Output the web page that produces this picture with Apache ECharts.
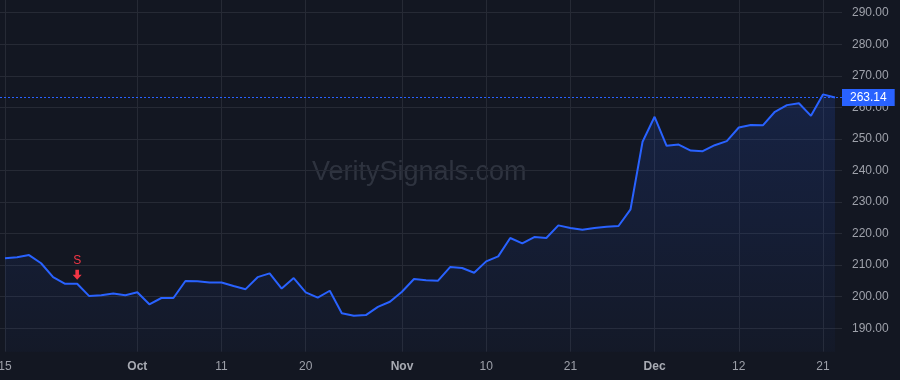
<!DOCTYPE html>
<html>
<head>
<meta charset="utf-8">
<script src="https://cdn.jsdelivr.net/npm/echarts@6/dist/echarts.min.js"></script>
<style>
html,body{margin:0;padding:0;background:#131722;}
#chart{width:900px;height:380px;}
</style>
</head>
<body>
<div id="chart"></div>
<script>
// Daily closes (trading days), index 0 = Sep 15
const values = [
  212.2, 212.5, 213.2, 210.6, 206.2, 204.1, 204.1, 200.2, 200.5, 201.0,
  200.5, 201.4, 197.6, 199.6, 199.6, 205.0, 204.9, 204.5, 204.5, 203.4,
  202.4, 206.2, 207.4, 202.6, 205.9, 201.4, 199.7, 201.9, 194.8, 194.0,
  194.2, 196.8, 198.4, 201.6, 205.6, 205.2, 205.1, 209.4, 209.1, 207.6,
  211.2, 212.8, 218.6, 216.9, 218.9, 218.6, 222.6, 221.8, 221.2, 221.8,
  222.2, 222.4, 227.7, 249.1, 257.0, 247.8, 248.2, 246.3, 246.1, 248.0,
  249.3, 253.6, 254.4, 254.3, 258.6, 260.7, 261.3, 257.3, 264.1, 263.14
];
// x-axis tick labels and the bar index each one sits on
const tickIndex  = [0, 11, 18, 25, 33, 40, 47, 54, 61, 68];
const tickLabels = ['15', 'Oct', '11', '20', 'Nov', '10', '21', 'Dec', '12', '21'];
const monthLabels = ['Oct', 'Nov', 'Dec'];
// price axis tick labels
const priceTicks = [190, 200, 210, 220, 230, 240, 250, 260, 270, 280, 290];
// sell signal
const signalIndex = 6;
const signalText = 'S';
const lastPrice = 263.14;
const watermark = 'VeritySignals.com';

const FONT = '"Liberation Sans", Arial, sans-serif';
const seriesData = values.map((v, i) => [i, v]);

const chart = echarts.init(document.getElementById('chart'), null, {renderer: 'canvas'});
chart.setOption({
  backgroundColor: '#131722',
  animation: false,
  textStyle: {fontFamily: FONT},
  grid: {left: 0, right: 58, top: 0, bottom: 28.3, containLabel: false, outerBoundsMode: 'none'},
  graphic: [{
    type: 'text',
    left: 421 - 109,
    top: 159,
    z: 0,
    silent: true,
    style: {
      text: watermark,
      font: '27px ' + FONT,
      fill: 'rgba(120,125,140,0.28)'
    }
  }],
  xAxis: {
    type: 'value',
    min: -0.4156,
    max: 69.58,
    axisLine: {show: false},
    axisTick: {show: false, customValues: tickIndex},
    splitLine: {show: true, lineStyle: {color: '#262a35', width: 1}},
    axisLabel: {
      customValues: tickIndex,
      margin: 9,
      fontSize: 12,
      color: '#9ea1aa',
      fontFamily: FONT,
      hideOverlap: false,
      formatter: function (v) {
        const k = tickIndex.indexOf(Math.round(v));
        if (k < 0) return '';
        const t = tickLabels[k];
        return monthLabels.indexOf(t) >= 0 ? '{m|' + t + '}' : t;
      },
      rich: {m: {fontWeight: 'bold', color: '#a8abb3', fontSize: 12, fontFamily: FONT}}
    }
  },
  yAxis: {
    type: 'value',
    position: 'right',
    min: 182.59,
    max: 294.0,
    axisLine: {show: false},
    axisTick: {show: false, customValues: priceTicks},
    splitLine: {show: true, lineStyle: {color: '#262a35', width: 1}},
    axisLabel: {
      customValues: priceTicks,
      margin: 10,
      fontSize: 12,
      color: '#9ea1aa',
      fontFamily: FONT,
      formatter: v => v.toFixed(2)
    }
  },
  series: [{
    type: 'line',
    data: seriesData,
    showSymbol: false,
    smooth: false,
    z: 3,
    lineStyle: {color: '#2962ff', width: 2},
    areaStyle: {
      color: {
        type: 'linear', x: 0, y: 0, x2: 0, y2: 1,
        colorStops: [
          {offset: 0, color: 'rgba(41,98,255,0.22)'},
          {offset: 1, color: 'rgba(41,98,255,0.04)'}
        ]
      }
    },
    markLine: {
      silent: true,
      symbol: 'none',
      animation: false,
      lineStyle: {color: '#2962ff', type: [2, 2], width: 1},
      label: {
        show: true,
        position: 'end',
        distance: 0,
        formatter: lastPrice.toFixed(2),
        backgroundColor: '#2962ff',
        color: '#ffffff',
        fontSize: 12,
        fontFamily: FONT,
        lineHeight: 13,
        padding: [2, 8, 2, 8]
      },
      data: [{yAxis: lastPrice}]
    },
    markPoint: {
      silent: true,
      animation: false,
      data: [{
        coord: [signalIndex, values[signalIndex]],
        symbol: 'path://M3,0 L7,0 L7,5 L10,5 L5,10 L0,5 L3,5 Z',
        symbolSize: [9, 10],
        symbolOffset: [0, -9],
        itemStyle: {color: '#f23645'},
        label: {
          show: true,
          position: 'top',
          distance: 3,
          formatter: signalText,
          color: '#f23645',
          fontSize: 12,
          fontFamily: FONT
        }
      }]
    }
  }]
});
</script>
</body>
</html>
